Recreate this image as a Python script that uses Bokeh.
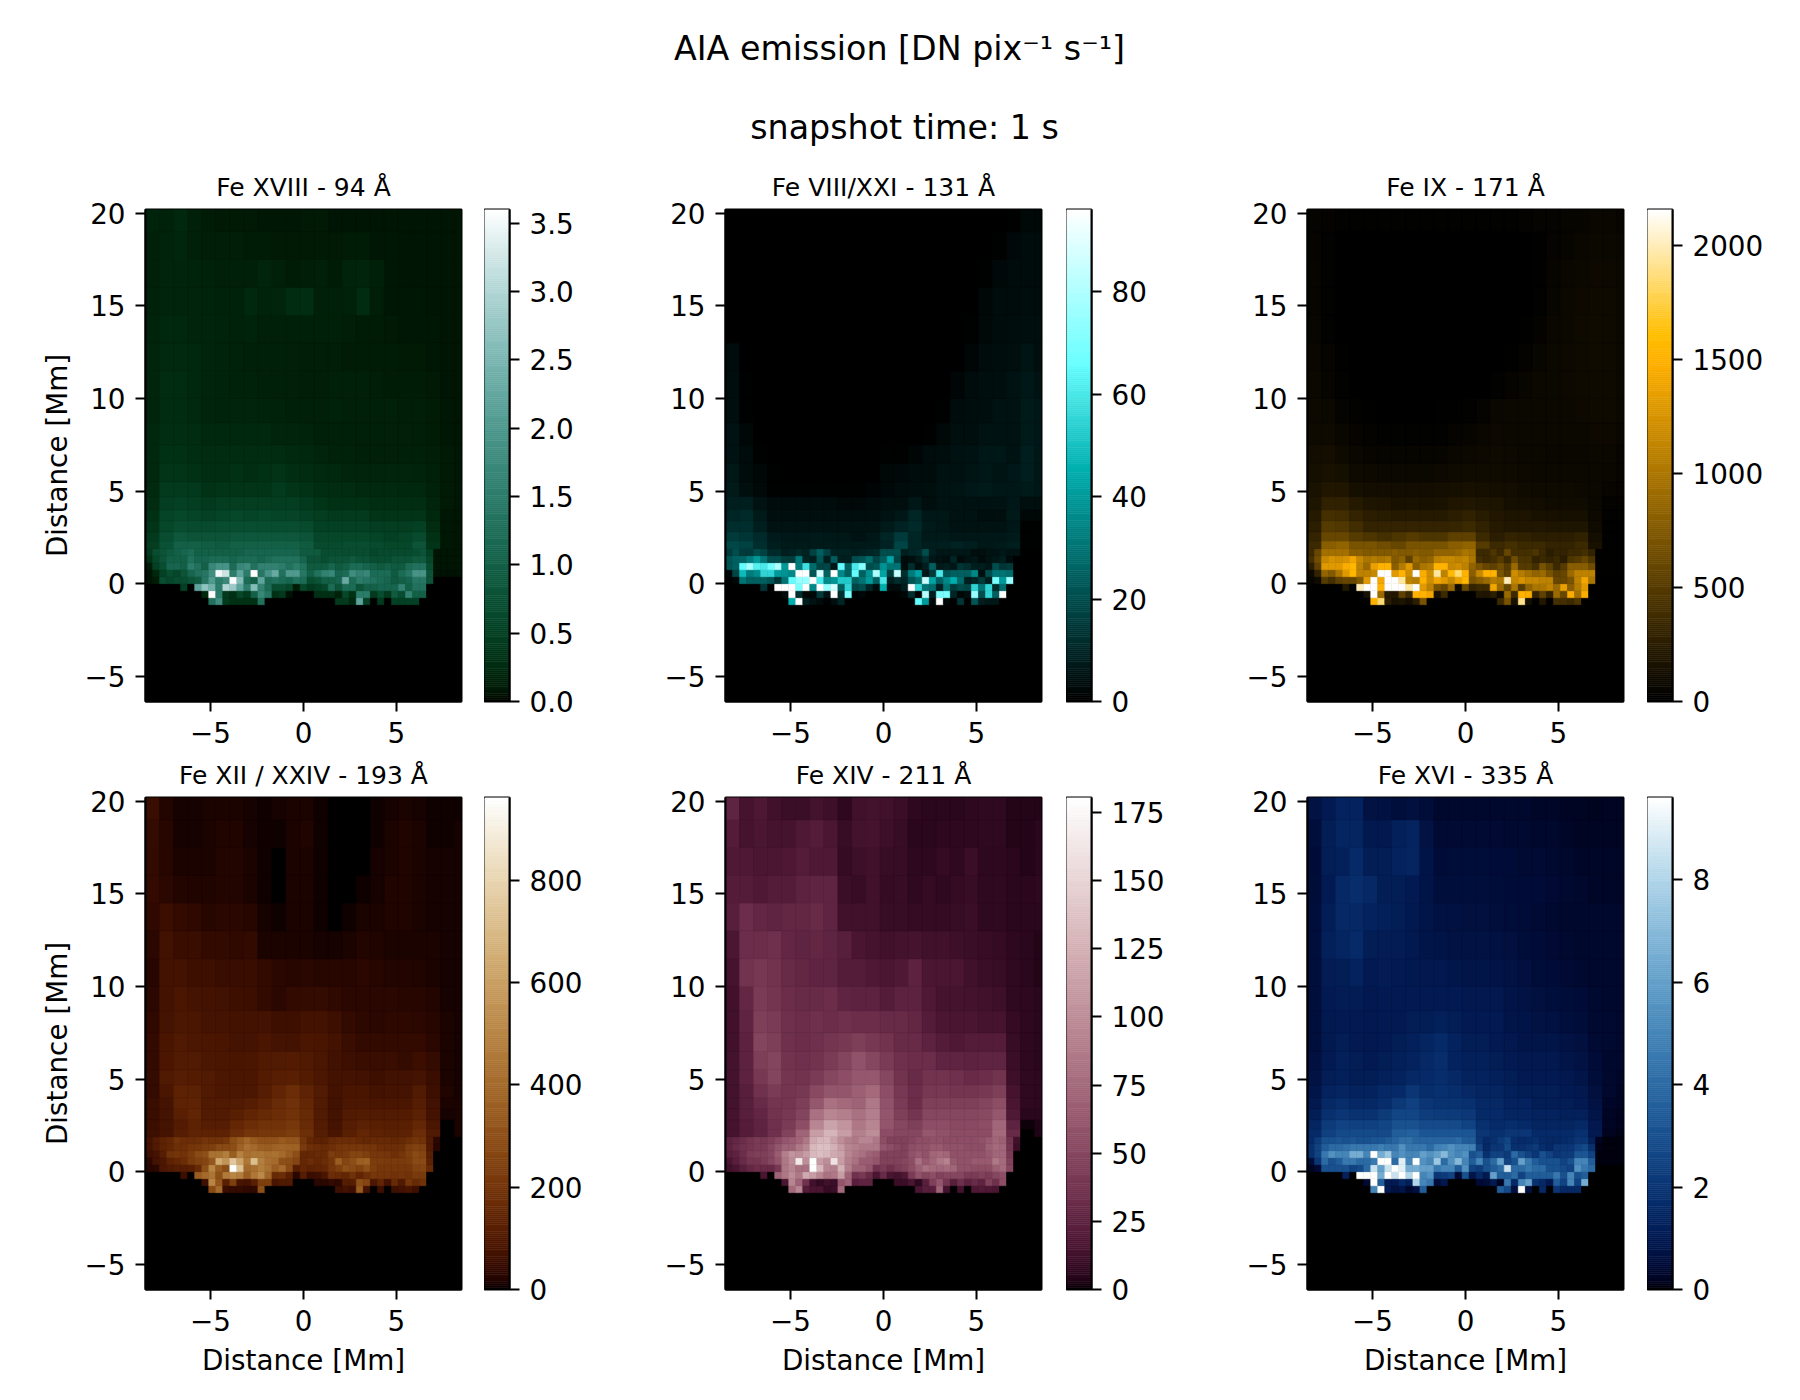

import numpy as np
from bokeh.embed import file_html
from bokeh.resources import INLINE
from bokeh.plotting import figure
from bokeh.layouts import column, row
from bokeh.models import ColumnDataSource, LinearColorMapper, FixedTicker, Range1d, PrintfTickFormatter
from bokeh.core.properties import value

CELL = 0.378
BLOCK_CELLS = 2
X_MIN, X_MAX = -8.5, 8.5
Y_MIN, Y_MAX = -6.36, 20.2
BANDS = [1.89, 2.3, 2.8, 3.4, 4, 4.7, 5.5, 6.5, 7.5, 8.7, 10, 11.5, 13, 14.5, 16, 17.5, 19, 20.3]

# Per panel: fine cells for the eight rows round the surface (-1.13 to 1.89 Mm), listed from the bottom
FINE_94 = [
 [0]*9+[1.3,1.8,.4,.3,.3,.3,.3,1.3]+[0]*10+[.4,.4,.2,2.2,.5,0,.4,0,.5,.5,.5,.5],
 [0]*8+[.2,3.6,1.5,.4,.3,.6,.4,1.0,1.7,1.4,.3,.4,.05,0,0,0,.3,.3,.3,.15,.6,.3,1.5,1.5,.4,.7,.4,.9,.7,1.6,1.0,1.0],
 [0]*5+[.5,0,2.2,2.7,2.4,1.5,3.0,2.8,2.2,1.5,2.6,1.6,1.2,.7,.7,.6,.1,.6,.4,.5,.6,1.2,.8,1.2,1.2,.8,1.0,1.0,1.1,1.1,1.1,1.6,1.0,1.3,1.3],
 [.05,.1,.7,.6,.7,.7,.8,.9,1.4,2.0,1.5,1.7,3.6,2.6,1.2,1.0,2.2,1.2,1.3,1.2,1.1,1.3,1.2,.7,.8,1.0,1.0,1.1,2.3,1.2,1.5,1.4,1.3,1.2,1.1,.9,1.0,1.1,1.4,1.4,.8],
 [.05,.2,.5,.7,.6,.8,1.1,1.3,1.4,1.8,3.5,3.2,1.5,2.2,1.5,3.6,1.4,1.9,2.3,1.3,2.0,2.0,1.4,1.0,1.3,1.6,1.7,1.1,1.2,1.8,1.6,1.7,1.2,1.2,1.2,.9,1.2,1.4,1.9,1.9,.8,.05,.05,.05,.05],
 [.1,.5,.7,1.1,1.1,1.0,1.5,1.3,1.0,1.7,1.9,1.9,1.2,1.7,1.8,1.3,1.6,1.6,1.6,1.5,1.3,1.5,1.3,.9,.9,.9,1.1,.9,1.0,1.2,1.2,1.1,1.0,.9,1.0,.9,.9,1.2,1.3,1.3,.7,.06,.06,.06,.06],
 [.3,.6,.8,1.0,1.0,1.0,1.3,1.1,1.1,1.2,1.2,1.2,1.1,1.2,1.2,1.2,1.1,1.2,1.3,1.3,1.3,1.3,1.1,.8,.8,.7,.8,.8,.8,.9,.8,.8,.7,.7,.7,.8,.8,.8,.9,.9,.6,.06,.06,.06,.06],
 [.4,.7,.8,.9,1.0,1.1,1.2,1.0,1.0,1.0,1.0,1.0,1.0,1.0,1.1,1.1,1.1,1.1,1.1,1.1,1.1,1.1,.9,.9,.9,.7,.7,.7,.7,.7,.7,.7,.6,.65,.65,.65,.65,.65,.7,.8,.5,.07,.07,.07,.07],
]
# Per panel: blocks two cells wide for the bands above 1.89 Mm
COARSE_94 = [
 [.45,.75,1.0,1.0,.95,.9,1.0,1.0,1.0,1.0,1.0,.9,.65,.65,.7,.7,.65,.6,.6,.8,.35,.08,.07],
 [.4,.7,.85,.8,.8,.8,.85,.85,.85,.85,.85,.8,.6,.6,.6,.6,.55,.5,.55,.65,.3,.08,.07],
 [.35,.6,.7,.65,.65,.7,.7,.7,.7,.7,.7,.65,.5,.5,.5,.5,.45,.45,.45,.5,.25,.08,.07],
 [.3,.55,.6,.55,.5,.55,.6,.55,.6,.55,.55,.5,.45,.4,.4,.4,.35,.35,.35,.35,.2,.08,.07],
 [.25,.45,.5,.45,.4,.45,.45,.45,.45,.45,.45,.4,.35,.3,.3,.3,.28,.28,.28,.28,.18,.09,.08],
 [.22,.4,.42,.38,.32,.35,.35,.35,.35,.4,.35,.32,.28,.25,.25,.22,.22,.22,.2,.2,.15,.09,.08],
 [.2,.35,.35,.3,.28,.28,.3,.28,.3,.33,.28,.25,.22,.2,.18,.18,.17,.18,.18,.16,.13,.09,.08],
 [.2,.3,.3,.27,.25,.25,.25,.25,.25,.25,.22,.2,.18,.15,.15,.14,.14,.14,.14,.13,.12,.09,.08],
 [.2,.28,.27,.24,.2,.2,.2,.2,.2,.18,.18,.16,.14,.14,.13,.14,.13,.13,.13,.12,.11,.08,.07],
 [.18,.25,.25,.22,.17,.16,.17,.17,.16,.15,.14,.13,.13,.15,.14,.14,.13,.13,.12,.12,.11,.08,.07],
 [.18,.24,.24,.2,.18,.16,.15,.15,.14,.14,.14,.12,.12,.13,.13,.13,.12,.11,.11,.1,.09,.07,.06],
 [.17,.22,.22,.2,.18,.16,.15,.14,.14,.14,.13,.12,.12,.12,.11,.11,.1,.1,.09,.09,.08,.07,.06],
 [.16,.2,.2,.18,.17,.16,.15,.16,.14,.14,.14,.13,.13,.13,.12,.11,.1,.09,.08,.08,.08,.07,.06],
 [.15,.18,.18,.17,.16,.15,.15,.2,.16,.18,.25,.26,.14,.13,.15,.24,.12,.08,.08,.08,.07,.07,.06],
 [.13,.17,.17,.16,.15,.13,.13,.14,.18,.14,.11,.12,.14,.1,.16,.18,.13,.08,.07,.07,.07,.06,.06],
 [.13,.16,.19,.14,.12,.12,.12,.11,.1,.09,.09,.09,.09,.09,.1,.1,.08,.08,.07,.07,.07,.06,.06],
 [.16,.15,.2,.13,.1,.09,.09,.09,.08,.08,.08,.09,.09,.07,.07,.07,.06,.07,.07,.07,.06,.06,.06],
]
FINE_131 = [
 [0]*9+[45,96,8,5,3,1,4,10]+[0]*10+[65,40,2,96,2,0,14,0,22,8,6,6],
 [0]*8+[3,96,12,2,2,15,5,96,12,70,1,2,0,0,0,0,1,2,12,.5,82,8,70,70,10,2,4,75,20,55,25,96],
 [0]*5+[14,0,96,96,96,70,96,35,96,75,88,25,55,18,20,10,3,45,3,3,8,96,55,30,28,8,30,15,20,18,55,30,55,12,28],
 [0,2,30,25,25,25,22,14,30,65,75,75,96,60,35,38,52,52,25,30,40,25,60,8,12,10,22,28,85,42,25,35,45,28,8,10,15,8,70,40,75],
 [2,18,48,32,36,55,55,40,38,35,96,96,22,88,25,96,35,25,65,25,38,80,42,16,85,12,32,42,6,15,60,22,25,25,25,35,4,20,30,30,28],
 [22,25,65,78,62,60,68,80,40,96,32,58,28,18,18,6,65,25,60,72,20,22,38,30,30,3,12,4,8,25,7,8,6,14,12,8,8,6,20,14,15],
 [22,25,26,32,40,30,20,20,16,16,32,10,8,22,8,24,8,8,20,22,28,18,24,42,18,3,4,7,12,6,5,4,10,3,5,6,3,5,6,8,3],
 [15,20,15,15,20,17,11,11,8,9,11,9,17,25,17,9,9,9,8,9,10,11,20,20,20,8,10,11,20,8,6,6,6,6,6,4,4,5,5,6,5,5,1,0,0],
]
COARSE_131 = [
 [19,17,12,8,7,7,7,7,7,7,7,9,18,10,8,8,9,8,6,7,8,1,1],
 [15,14,11,7,6,6,7,6,6,5,6,10,15,10,7,7,6,6,6,6,7,1,1],
 [12,12,8,5,5,5,5,5,5,5,5,7,9,11,7,6,5,5,5,5,6,1,1],
 [10,11,7,4,4,4,4,4,4,4,4,5,6,10,6,6,5,5,4,4,7,2,2],
 [8,8,5,3,3,3,3,3,2.5,2.5,3,4,4,6,4,5,5,4.5,4.5,5,6,4,4],
 [7,4,2.5,1,.8,.8,.8,.8,.8,.8,1.2,2.5,3,3.5,4,5,5.5,6,7,6,6,7,6],
 [6,3,2,.5,0,0,0,0,0,0,0,2,2.5,3,3,4.5,4.5,5.5,6,5.5,6,8,6],
 [5,3,.8,0,0,0,0,0,0,0,0,.5,1,1.5,3,3.5,4.5,5,6,6,5,8,6],
 [5,2,.3,0,0,0,0,0,0,0,0,0,0,0,.5,2.5,4,4,5,5,5,7,6],
 [4,1,0,0,0,0,0,0,0,0,0,0,0,0,0,.8,3,3.5,4,5,5,7,6],
 [3.5,.5,0,0,0,0,0,0,0,0,0,0,0,0,0,0,1.5,3,4,4,5,6,5],
 [3,0,0,0,0,0,0,0,0,0,0,0,0,0,0,0,0,1.5,3,3.5,4,5.5,4],
 [0,0,0,0,0,0,0,0,0,0,0,0,0,0,0,0,0,.5,2.5,3,3.5,4,4],
 [0,0,0,0,0,0,0,0,0,0,0,0,0,0,0,0,0,0,2,3,3,3.5,3],
 [0,0,0,0,0,0,0,0,0,0,0,0,0,0,0,0,0,0,.5,2.5,3,3,3],
 [0,0,0,0,0,0,0,0,0,0,0,0,0,0,0,0,0,0,0,1,2.5,3,3],
 [0,0,0,0,0,0,0,0,0,0,0,0,0,0,0,0,0,0,0,0,1,2.5,2],
]
FINE_171 = [
 [0]*9+[1500,1850,250,150,180,120,250,700]+[0]*10+[350,700,150,1900,120,0,200,0,400,400,350,450],
 [0]*8+[150,2150,900,220,200,550,350,1500,1500,1400,150,350,0,0,0,0,200,180,250,100,900,350,1500,1450,300,550,300,900,600,1450,950,1450],
 [0]*5+[200,0,2000,2150,2150,1500,2150,2150,2150,1950,2150,1300,1100,700,600,900,100,600,300,350,350,1400,900,600,1000,500,850,1000,1000,1100,900,1350,800,1050,1300],
 [50,100,500,400,550,600,600,750,1300,2150,1400,2150,2150,1950,1100,1050,1500,1200,1400,1300,1150,1350,1550,700,800,900,1050,1000,2000,1150,1250,1150,1150,1100,1100,600,600,700,1100,1400,1000],
 [80,300,850,750,1000,1300,1550,1100,1100,1150,2150,2150,1300,1500,1200,2150,1450,1200,1950,1100,1550,1850,1500,800,1150,1500,1500,700,550,1200,1050,950,850,900,700,550,600,900,1100,1100,1100,15,15,15,15],
 [250,550,1300,1300,1300,1450,1550,1100,900,1350,1500,1500,800,1050,1300,800,1000,1050,1500,1500,1150,1200,1100,850,700,600,550,650,500,900,500,500,400,700,550,350,500,800,800,800,650,15,15,15,15],
 [400,650,1150,1250,1200,1250,1400,1150,1000,1050,1000,1050,750,850,550,900,800,850,1100,1150,1150,1100,1150,1000,400,350,400,500,350,650,450,450,300,350,300,350,250,450,500,600,450,15,15,15,15],
 [350,600,950,950,950,950,800,800,750,750,750,750,800,750,750,800,750,750,850,850,850,900,1000,950,350,350,450,350,600,400,400,400,450,350,250,300,300,350,350,400,300,15,15,15,15],
]
COARSE_171 = [
 [350,800,850,700,700,650,600,700,700,700,800,850,500,350,400,350,350,300,300,350,150,15,15],
 [300,600,600,500,450,400,450,500,450,450,550,550,350,250,300,280,250,250,250,280,120,15,15],
 [250,500,480,380,300,300,300,300,300,300,320,350,280,220,200,200,200,180,180,180,100,15,15],
 [220,400,380,300,250,230,220,220,220,220,260,280,230,200,170,170,150,140,130,130,80,20,20],
 [180,280,280,220,180,170,150,160,150,160,190,200,180,170,130,120,110,100,100,100,70,30,30],
 [160,200,190,130,110,110,110,110,110,120,130,140,130,120,110,100,90,90,90,80,70,50,35],
 [130,150,130,90,80,70,70,70,70,80,90,100,100,100,90,80,75,70,70,70,70,60,45],
 [110,120,90,60,50,45,45,45,45,50,60,70,80,90,80,75,70,65,65,65,75,75,50],
 [90,90,60,35,30,20,20,20,20,25,35,50,60,80,75,70,70,70,70,70,80,80,60],
 [80,70,40,20,10,5,5,8,8,10,15,25,40,60,70,70,70,75,75,80,85,85,70],
 [70,45,20,5,3,3,3,3,3,3,3,5,8,25,35,55,70,75,80,90,90,85,70],
 [60,35,10,3,2,2,2,2,2,2,2,2,3,5,15,30,55,70,80,90,95,90,70],
 [55,25,5,2,1,1,1,1,1,1,1,1,1,2,4,10,30,60,75,85,95,90,75],
 [50,20,3,1,1,0,0,0,0,0,0,0,0,1,2,4,20,55,70,80,90,85,70],
 [45,20,3,1,1,0,0,0,0,0,0,0,0,0,1,2,10,45,60,70,80,80,70],
 [40,20,8,5,3,2,2,2,2,2,2,2,2,2,3,5,15,40,50,60,70,75,60],
 [40,30,25,25,20,20,20,20,20,20,20,20,20,20,25,30,35,40,45,50,60,60,45],
]
FINE_193 = [
 [0]*9+[280,400,50,45,45,35,35,300]+[0]*10+[60,70,60,340,70,0,60,0,60,70,80,60],
 [0]*8+[60,500,320,120,240,80,70,120,240,240,80,100,100,0,0,0,30,30,40,35,110,110,300,260,90,140,70,160,100,200,160,190],
 [0]*5+[60,0,350,400,440,300,460,500,470,350,450,520,380,160,170,120,30,110,50,60,80,170,160,150,190,140,180,210,200,200,190,200,190,220,220],
 [25,30,90,100,110,110,120,160,300,500,350,300,960,730,400,420,470,430,350,400,280,110,150,130,140,150,200,240,300,280,250,300,240,210,210,210,210,210,250,260,160],
 [30,70,90,130,150,170,220,250,260,330,640,560,750,620,450,720,480,420,400,300,290,260,150,170,150,170,200,350,260,300,360,370,230,230,220,220,220,230,280,280,130,0,0,0,0],
 [60,70,110,190,200,190,230,280,300,430,430,480,350,490,420,440,440,420,430,400,350,300,150,150,160,160,230,210,220,260,260,240,210,210,200,180,200,240,280,260,120,0,0,0,0],
 [70,100,130,150,180,180,200,210,230,240,280,280,290,370,430,400,360,350,370,380,370,370,220,180,170,160,180,200,210,210,210,200,200,180,170,170,180,230,250,240,100,25,0,0,0],
 [70,100,130,150,190,170,170,180,200,190,190,210,290,340,390,340,310,310,310,340,320,320,200,150,130,130,160,170,170,170,160,150,160,160,160,150,160,180,200,190,100,30,0,0,0],
]
COARSE_193 = [
 [60,75,110,135,130,130,170,200,210,210,230,180,110,80,120,145,130,125,130,170,100,0,15],
 [55,75,105,130,110,110,150,170,190,190,210,165,105,75,110,125,120,115,120,150,85,0,12],
 [50,75,120,140,100,100,120,140,160,170,190,160,100,70,100,105,100,100,105,125,70,10,12],
 [50,75,130,135,95,95,100,110,135,165,185,150,100,65,90,90,85,85,85,110,65,12,12],
 [45,85,130,125,95,90,90,90,110,140,170,135,100,70,80,80,70,75,75,100,60,18,10],
 [45,95,110,105,100,90,85,85,105,115,120,105,90,70,70,65,60,65,65,75,50,15,10],
 [40,85,100,100,90,85,80,85,95,100,105,95,85,65,60,50,50,50,45,55,45,15,10],
 [40,80,95,90,85,80,75,75,85,75,70,85,80,70,50,40,40,40,40,40,30,15,10],
 [35,75,90,85,75,75,70,70,70,60,60,70,70,60,40,32,30,32,32,30,25,12,10],
 [30,70,85,75,70,65,60,55,40,30,40,45,45,35,30,28,28,28,25,25,20,10,8],
 [25,70,70,60,60,50,50,50,40,28,25,30,25,25,25,28,25,22,20,18,15,10,8],
 [30,65,50,50,40,40,35,40,15,12,14,15,10,8,14,22,18,15,15,15,12,10,8],
 [35,55,40,35,25,28,28,25,10,5,12,14,5,3,4,12,15,18,18,15,10,8,8],
 [40,30,20,18,18,22,22,15,5,3,12,14,4,2,3,5,10,18,18,14,8,8,8],
 [40,25,15,15,15,20,20,12,6,3,12,15,5,2,3,3,8,15,16,12,8,8,10],
 [42,25,10,10,15,18,16,10,5,5,14,16,5,2,2,3,6,15,16,12,5,6,10],
 [50,22,10,8,12,12,12,8,4,8,14,12,4,2,2,3,4,10,14,10,4,4,6],
]
FINE_211 = [
 [0]*9+[75,95,20,15,15,8,10,75]+[0]*10+[15,22,22,70,13,0,13,0,17,19,17,15],
 [0]*8+[15,95,70,35,12,8,12,10,60,70,22,25,25,0,0,0,10,10,15,7,22,45,60,38,22,34,25,30,25,46,34,55],
 [0]*5+[15,0,70,85,100,85,120,110,95,80,85,110,70,35,40,30,15,30,15,13,17,42,58,50,55,46,50,50,50,42,42,46,42,50,55],
 [12,15,22,28,32,30,30,40,85,95,80,80,180,130,95,90,125,90,70,70,60,35,42,34,42,46,55,68,80,76,72,76,72,58,58,55,55,55,68,76,50],
 [15,22,30,38,38,42,50,60,85,100,165,100,180,110,100,160,110,90,80,65,65,60,46,46,46,50,55,80,64,72,85,92,64,58,58,64,64,64,85,76,46,0,0,0,0],
 [22,25,32,42,45,45,50,65,90,105,100,110,130,135,130,120,115,95,85,80,70,65,46,46,46,46,58,64,58,72,76,72,58,58,58,58,58,64,72,72,42,0,0,0,0],
 [24,30,35,38,42,42,50,60,70,70,85,95,130,135,135,125,110,95,90,85,85,85,60,55,50,46,55,58,58,64,64,58,58,58,55,55,55,68,76,72,38,10,0,0,0],
 [24,28,32,38,42,40,45,52,60,65,72,85,120,128,130,115,100,90,85,95,95,85,55,46,46,46,50,55,55,58,58,55,55,55,55,55,58,64,72,68,36,12,0,0,0],
]
COARSE_211 = [
 [14,20,25,34,47,71,111,128,111,90,100,54,50,50,62,58,54,54,54,75,30,0,3],
 [14,20,25,34,42,55,95,115,105,85,95,60,50,45,55,55,52,52,55,72,25,1,3],
 [14,22,27,36,40,48,80,95,90,80,90,60,45,38,50,50,50,50,52,62,18,5,5],
 [13,22,30,38,38,44,62,80,75,70,85,58,42,32,45,45,45,45,48,55,15,7,6],
 [13,22,35,42,38,40,52,60,60,68,75,55,40,32,40,40,38,38,40,45,14,7,6],
 [13,24,40,48,38,36,42,50,55,62,62,50,36,30,36,36,34,30,32,36,11,7,6],
 [13,24,44,48,36,34,36,42,48,58,50,42,34,32,32,26,26,24,26,26,10,6,5],
 [12,24,48,44,34,32,34,38,40,44,40,36,30,30,24,20,18,20,20,20,9,6,5],
 [12,26,45,42,34,32,34,32,34,32,32,30,30,28,20,16,15,15,14,14,8,6,5],
 [12,28,42,38,32,30,30,32,26,24,24,20,24,24,18,14,14,13,12,11,7,6,5],
 [14,36,40,36,30,28,26,26,20,20,18,16,18,24,16,15,16,12,10,9,7,5,4],
 [16,32,32,34,28,26,28,26,22,15,14,12,13,14,12,12,11,10,9,8,6,5,4],
 [22,32,28,26,28,28,30,26,12,12,12,9,9,8,8,8,9,10,7,7,5,5,5],
 [20,20,18,20,20,24,26,26,10,9,12,8,9,7,8,7,8,9,7,7,5,5,6],
 [18,18,16,16,17,20,18,18,8,11,12,9,9,6,6,8,7,10,6,6,5,4,5],
 [20,14,16,14,14,18,20,16,9,13,14,11,9,5,5,6,6,6,7,7,4,4,5],
 [26,14,17,12,10,10,13,11,6,12,13,12,10,6,5,5,5,6,7,7,4,4,4],
]
FINE_335 = [
 [0]*9+[5,9.6,.9,.6,.8,.3,.6,3.5]+[0]*10+[3.5,2.8,.6,9.6,.6,0,1.5,0,2,1.5,1.5,1.5],
 [0]*8+[.4,9.6,3.5,1,1,1.5,1.2,8,5,4.5,.5,.9,0,0,0,0,.4,.5,1,.2,4.5,1.5,5,6,1.8,1.5,1,3.5,2.5,5,2.5,6.5],
 [0]*5+[1.2,0,9.6,9.6,9.6,6.5,9.6,8.5,9.6,8,9.6,5,5.5,2,2.2,2.5,.4,3,.8,1.5,1,6,3.5,3.5,4,2.5,3.5,3.5,3.5,3.5,4.5,3,5,3,3.5],
 [.2,.4,3,3,3,3,2.5,2.8,4,8.5,6,8.5,9.6,9,6.5,6.5,6,6,4.5,5,5,3.5,5.5,2.5,2.2,3,3.5,4,8.5,4,4,4.5,4,4,3,3,2.8,2.5,5.5,4.5,4],
 [.5,2,4,3,3.5,4.5,4.5,4,4,4.5,9.6,9.6,4,9,5,9.6,5.5,5,7.5,4,5.5,7,5,3.5,5,3,4,6,2.5,3,6,4.5,3.5,3,3,3,2.5,3,5,5,3.5,.05,.05,.05,.05],
 [1.8,2.5,4.5,5.5,5,5,6.5,6.5,5,9.6,6.5,7.5,5,5.5,5,5,6,5.5,6,7,5.5,5,5.5,3,3.5,1.8,2.5,2.5,2.2,4,3,2.5,2,3,2.5,2,2.2,2.2,3.2,3.2,2.5,.05,.05,.05,.05],
 [1.8,2.5,3.5,4,4,4.2,4.5,4.5,4.5,4.5,4.8,4.5,4.5,5.5,4.5,4.5,4.5,4,4.8,5,5.5,5,5,4.8,2.5,1.5,2,2,2.8,1.8,1.8,2,2.2,1.7,1.5,2,2,2,2.5,2.8,1.8,.1,.05,.05,.05],
 [1.6,2.2,3,3,3.2,3,3.2,3,3,3.2,3.2,3.5,3.8,4.2,4.2,3.8,3.8,3.8,3.8,3.8,3.8,4,3.5,3.5,2,1.6,1.8,2.2,2.6,1.7,1.6,1.7,1.8,1.6,1.5,1.5,1.6,1.7,2,2,1.2,.15,.05,.05,.05],
]
COARSE_335 = [
 [1.6,2.4,2.8,2.8,2.8,2.8,3.5,3.6,3.2,3.2,3.2,3.2,2.0,1.8,2,2,1.6,1.6,1.6,1.8,1.0,.15,.1],
 [1.4,2.2,2.5,2.4,2.4,2.6,3,3,2.8,2.8,2.8,2.5,1.8,1.6,1.7,1.6,1.4,1.4,1.4,1.5,.9,.2,.15],
 [1.1,1.8,2,1.9,1.9,2.2,2.6,2.6,2.3,2.2,2.2,2.1,1.6,1.6,1.4,1.4,1.3,1.3,1.2,1.2,.8,.2,.15],
 [.9,1.5,1.7,1.5,1.5,1.7,2.1,2.4,2,1.9,1.9,1.8,1.5,1.5,1.3,1.3,1.1,1.1,1.1,1,.7,.25,.2],
 [.8,1.3,1.4,1.3,1.3,1.5,1.6,2,1.7,1.8,1.7,1.5,1.4,1.4,1.2,1.1,1.1,1.1,1,.9,.6,.3,.2],
 [.7,1.1,1.2,1.1,1.1,1.2,1.3,1.5,1.6,1.7,1.5,1.3,1.3,1.2,1.1,1,1,1,.9,.8,.5,.3,.25],
 [.6,1,1.2,1.1,1,1.1,1.2,1.3,1.5,1.7,1.3,1.2,1.2,1.1,1,.9,.9,.9,.8,.7,.45,.3,.3],
 [.55,.95,1.1,1,.9,1,1.1,1.2,1.4,1.6,1.3,1.1,1.1,1,.9,.8,.8,.8,.7,.6,.4,.35,.3],
 [.55,.95,1,1,.9,1,1,1.1,1.1,1.2,1.1,1,1,1,.8,.75,.7,.65,.55,.5,.35,.35,.3],
 [.55,1,1.05,1.05,.9,1,1,1,1,1,1,.9,.9,.9,.75,.7,.6,.55,.5,.45,.35,.3,.3],
 [.55,1.05,1.1,1.3,1,1.05,1,.95,.9,.9,.85,.8,.8,.75,.7,.6,.5,.45,.4,.35,.3,.3,.3],
 [.55,1.2,1.4,1.6,1.1,1.05,1.05,.95,.8,.75,.7,.7,.7,.65,.6,.5,.45,.4,.35,.3,.3,.3,.3],
 [.55,1.15,1.5,1.5,1.3,1.2,1.1,.95,.8,.65,.65,.6,.6,.55,.5,.45,.4,.35,.3,.3,.3,.3,.3],
 [.5,1,1.5,1.7,1.5,1.1,1.1,1,.75,.55,.55,.55,.55,.5,.45,.45,.45,.4,.35,.3,.25,.25,.25],
 [.45,1.1,1.2,1.6,1.1,1.1,1.3,1.4,.75,.45,.5,.5,.5,.45,.45,.4,.4,.35,.3,.25,.25,.25,.25],
 [.55,1.1,1.4,1.4,.95,.9,1.2,1.35,.7,.4,.4,.4,.4,.4,.35,.35,.3,.3,.25,.2,.2,.2,.2],
 [.7,1,1.3,1.3,.7,.65,.55,.6,.5,.3,.3,.3,.3,.3,.3,.3,.25,.25,.2,.2,.15,.2,.2],
]

TITLES = ["Fe XVIII - 94 Å", "Fe VIII/XXI - 131 Å", "Fe IX - 171 Å",
          "Fe XII / XXIV - 193 Å", "Fe XIV - 211 Å", "Fe XVI - 335 Å"]
VMAX = [3.6, 96, 2157, 962, 180.5, 9.6]
CB_TICKS = [[0, .5, 1, 1.5, 2, 2.5, 3, 3.5], [0, 20, 40, 60, 80], [0, 500, 1000, 1500, 2000],
            [0, 200, 400, 600, 800], [0, 25, 50, 75, 100, 125, 150, 175], [0, 2, 4, 6, 8]]
X_TICKS = [-5, 0, 5]
Y_TICKS = [-5, 0, 5, 10, 15, 20]
SUPTITLE = "AIA emission [DN pix⁻¹ s⁻¹]"
SUBTITLE = "snapshot time: 1 s"
XLABEL = "Distance [Mm]"
YLABEL = "Distance [Mm]"

FONT = "DejaVu Sans"
c0 = np.arange(256.0)
c1 = np.sqrt(c0) * np.sqrt(255.0)
c2 = c0 ** 2 / 255.0
c3 = (c1 + c2 / 2.0) * 255.0 / (c1.max() + c2.max() / 2.0)
r0 = np.clip(c0 * 255.0 / 175.0, 0, 255)
g0 = np.clip((c0 - 120.0) * 255.0 / 135.0, 0, 255)
b0 = np.clip((c0 - 190.0) * 255.0 / 65.0, 0, 255)
CHANNELS = [(c2, c3, c0), (g0, r0, r0), (r0, c0, b0), (c1, c0, c2), (c1, c0, c3), (c2, c0, c1)]


def palette(ch):
    return ["#%02x%02x%02x" % (int(a), int(b), int(c)) for a, b, c in zip(*ch)]


def cells(fine, coarse):
    left, right, bottom, top, val = [], [], [], [], []
    for j, line in enumerate(fine):
        for i in range(45):
            left.append(X_MIN + i * CELL)
            right.append(X_MIN + (i + 1) * CELL)
            bottom.append((j - 3) * CELL)
            top.append((j - 2) * CELL)
            val.append(line[i] if i < len(line) else 0)
    for j, line in enumerate(coarse):
        for i, v in enumerate(line):
            left.append(X_MIN + i * BLOCK_CELLS * CELL)
            right.append(X_MIN + (i + 1) * BLOCK_CELLS * CELL)
            bottom.append(BANDS[j])
            top.append(BANDS[j + 1])
            val.append(v)
    return dict(left=left, right=right, bottom=bottom, top=top, v=val)


TOP, FRAME_H, FRAME_W, CB_W = 48, 492, 316, 25
LEFTS = [145, 70, 70]
GAPS = [23, 25, 24]
CB_RIGHT = [146, 146, 110]


def style_axis(ax):
    ax.axis_line_width = 2
    ax.axis_line_color = "black"
    ax.major_tick_line_width = 2
    ax.major_tick_line_color = "black"
    ax.major_tick_out = 10
    ax.major_tick_in = 0
    ax.minor_tick_line_color = None
    ax.major_label_text_font = FONT
    ax.major_label_text_font_size = "27.8px"
    ax.major_label_text_color = "black"
    ax.major_label_standoff = 10
    ax.axis_label_text_font = FONT
    ax.axis_label_text_font_size = "27.8px"
    ax.axis_label_text_font_style = "normal"
    ax.axis_label_text_color = "black"


def panel(k, r, c, fine, coarse):
    bottom_b = 100 if r == 1 else 48
    L, G = LEFTS[c], GAPS[c]
    mapper = LinearColorMapper(palette=palette(CHANNELS[k]), low=0, high=VMAX[k])
    p = figure(width=L + FRAME_W + G, height=TOP + FRAME_H + bottom_b, frame_width=FRAME_W, frame_height=FRAME_H,
               x_range=Range1d(X_MIN, X_MAX), y_range=Range1d(Y_MIN, Y_MAX),
               min_border_left=L, min_border_right=G, min_border_top=TOP, min_border_bottom=bottom_b,
               toolbar_location=None, output_backend="svg", title=TITLES[k])
    p.title.text_font = FONT
    p.title.text_font_size = "25px"
    p.title.text_font_style = "normal"
    p.title.align = "center"
    p.title.text_color = "black"
    p.title.offset = 0
    p.title.standoff = 16
    p.background_fill_color = "black"
    p.border_fill_color = "white"
    p.outline_line_color = "black"
    p.outline_line_width = 2
    p.outline_line_alpha = 1
    p.grid.visible = False
    src = ColumnDataSource(cells(fine, coarse))
    tr = {"field": "v", "transform": mapper}
    p.quad(left="left", right="right", top="top", bottom="bottom", source=src,
           fill_color=tr, line_color=tr, line_width=0.6)
    p.xaxis.ticker = FixedTicker(ticks=X_TICKS)
    p.yaxis.ticker = FixedTicker(ticks=Y_TICKS)
    p.xaxis.major_label_overrides = {-5: "−5"}
    p.yaxis.major_label_overrides = {-5: "−5"}
    style_axis(p.xaxis[0])
    style_axis(p.yaxis[0])
    if c == 0:
        p.yaxis.axis_label = YLABEL
        p.yaxis.axis_label_standoff = 8
    if r == 1:
        p.xaxis.axis_label = XLABEL
        p.xaxis.axis_label_standoff = 10

    bar_y = np.linspace(0, VMAX[k], 257)
    cb = figure(width=CB_W + CB_RIGHT[c], height=TOP + FRAME_H + bottom_b, frame_width=CB_W, frame_height=FRAME_H,
                x_range=Range1d(0, 1), y_range=Range1d(0, VMAX[k]), y_axis_location="right",
                min_border_left=0, min_border_right=CB_RIGHT[c], min_border_top=TOP, min_border_bottom=bottom_b,
                toolbar_location=None, output_backend="svg")
    cb.xaxis.visible = False
    cb.grid.visible = False
    cb.outline_line_color = "black"
    cb.outline_line_width = 2
    cb.outline_line_alpha = 1
    mids = (bar_y[:-1] + bar_y[1:]) / 2
    s2 = ColumnDataSource(dict(b=bar_y[:-1], t=bar_y[1:], m=mids))
    tr2 = {"field": "m", "transform": mapper}
    cb.quad(left=0, right=1, top="t", bottom="b", source=s2, fill_color=tr2, line_color=tr2, line_width=0.6)
    cb.yaxis.ticker = FixedTicker(ticks=CB_TICKS[k])
    if k == 0:
        cb.yaxis.formatter = PrintfTickFormatter(format="%.1f")
    style_axis(cb.yaxis[0])
    return [p, cb]


header = figure(width=1782, height=161, x_range=Range1d(0, 1782), y_range=Range1d(161, 0),
                toolbar_location=None, output_backend="svg", min_border=0)
header.xaxis.visible = False
header.yaxis.visible = False
header.grid.visible = False
header.outline_line_color = None
header.text(x=[899], y=[48], text=[SUPTITLE], text_font=value(FONT), text_font_size="33.3px",
            text_align="center", text_baseline="middle", text_color="black")
header.text(x=[904], y=[127], text=[SUBTITLE], text_font=value(FONT), text_font_size="33.3px",
            text_align="center", text_baseline="middle", text_color="black")

FINE = [FINE_94, FINE_131, FINE_171, FINE_193, FINE_211, FINE_335]
COARSE = [COARSE_94, COARSE_131, COARSE_171, COARSE_193, COARSE_211, COARSE_335]

rows = [header]
for r in range(2):
    items = []
    for c in range(3):
        k = r * 3 + c
        items += panel(k, r, c, FINE[k], COARSE[k])
    rows.append(row(*items, spacing=0))
page = column(*rows, spacing=0)
open("out.html", "w").write(file_html(page, INLINE))
